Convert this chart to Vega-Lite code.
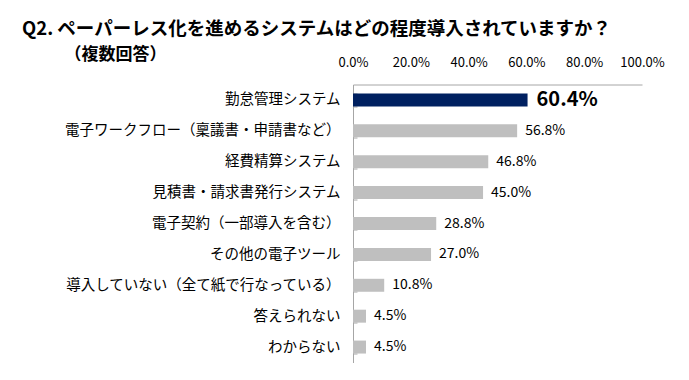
{
  "$schema": "https://vega.github.io/schema/vega-lite/v6.json",
  "width": 289,
  "height": 278,
  "autosize": "none",
  "padding": {"left": 353, "top": 84.5, "right": 47, "bottom": 17.5},
  "background": "white",
  "config": {"view": {"stroke": null}, "font": "Noto Sans CJK JP"},
  "title": {
    "text": "Q2. ペーパーレス化を進めるシステムはどの程度導入されていますか？",
    "subtitle": "\u200B\u3000\u3000\u2002（複数回答）",
    "anchor": "start",
    "frame": "group",
    "dx": -331,
    "offset": -6,
    "font": "Noto Sans CJK JP",
    "fontSize": 18.5,
    "fontWeight": "bold",
    "color": "#000000",
    "subtitleFont": "Noto Sans CJK JP",
    "subtitleFontSize": 17,
    "subtitleFontWeight": "bold",
    "subtitleColor": "#000000",
    "subtitlePadding": 8
  },
  "data": {
    "values": [
      {"cat": "勤怠管理システム", "value": 0.604},
      {"cat": "電子ワークフロー（稟議書・申請書など）", "value": 0.568},
      {"cat": "経費精算システム", "value": 0.468},
      {"cat": "見積書・請求書発行システム", "value": 0.45},
      {"cat": "電子契約（一部導入を含む）", "value": 0.288},
      {"cat": "その他の電子ツール", "value": 0.27},
      {"cat": "導入していない（全て紙で行なっている）", "value": 0.108},
      {"cat": "答えられない", "value": 0.045},
      {"cat": "わからない", "value": 0.045}
    ]
  },
  "encoding": {
    "y": {
      "field": "cat",
      "type": "nominal",
      "sort": null,
      "scale": {"paddingInner": 0.58, "paddingOuter": 0.29},
      "axis": {
        "title": null,
        "domainColor": "#A6A6A6",
        "tickColor": "#A6A6A6",
        "tickSize": -4,
        "tickBand": "extent",
        "labelPadding": 17,
        "labelFontSize": 14.5,
        "labelColor": "#000000",
        "labelFont": "Noto Sans CJK JP",
        "labelLimit": 0
      }
    },
    "x": {
      "field": "value",
      "type": "quantitative",
      "scale": {"domain": [0, 1], "nice": false},
      "axis": {
        "orient": "top",
        "title": null,
        "values": [0, 0.2, 0.4, 0.6, 0.8, 1],
        "format": ".1%",
        "grid": false,
        "ticks": false,
        "domainColor": "#A6A6A6",
        "labelPadding": 15,
        "labelFontSize": 13,
        "labelColor": "#000000",
        "labelFont": "Noto Sans CJK JP",
        "labelOverlap": false,
        "labelFlush": false
      }
    }
  },
  "layer": [
    {
      "mark": {"type": "bar"},
      "encoding": {
        "color": {
          "condition": {"test": "datum.cat === '勤怠管理システム'", "value": "#002060"},
          "value": "#BFBFBF"
        }
      }
    },
    {
      "transform": [{"filter": "datum.cat !== '勤怠管理システム'"}],
      "mark": {"type": "text", "align": "left", "dx": 8, "fontSize": 14, "color": "#000000", "font": "Noto Sans CJK JP"},
      "encoding": {"text": {"field": "value", "type": "quantitative", "format": ".1%"}}
    },
    {
      "transform": [{"filter": "datum.cat === '勤怠管理システム'"}],
      "mark": {"type": "text", "align": "left", "dx": 9, "fontSize": 20, "fontWeight": "bold", "color": "#000000", "font": "Noto Sans CJK JP"},
      "encoding": {"text": {"field": "value", "type": "quantitative", "format": ".1%"}}
    }
  ]
}
